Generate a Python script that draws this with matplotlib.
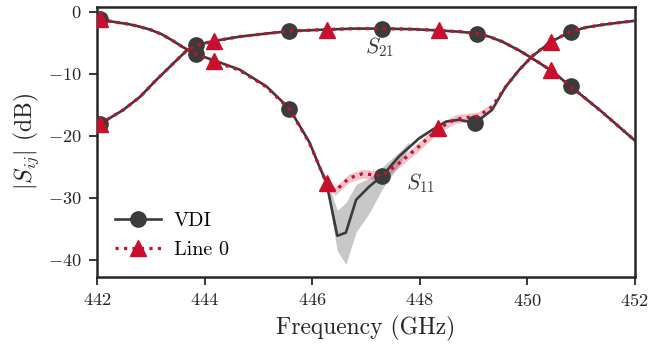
import matplotlib
matplotlib.use("Agg")
import matplotlib.pyplot as plt

plt.rcParams.update({
    "font.family": "serif",
    "font.serif": ["cmr10"],
    "mathtext.fontset": "cm",
    "axes.formatter.use_mathtext": True,
    "axes.unicode_minus": True,
})

# ---- data ----
vdi_s11_f = [442.05, 442.3, 442.6, 442.8, 443.0, 443.2, 443.4, 443.6, 443.84, 444.2,
             444.65, 445.15, 445.58, 445.95, 446.14, 446.27, 446.47, 446.63, 446.82, 447.06,
             447.31, 447.62, 447.99, 448.24, 448.49, 448.73, 449.04, 449.35, 449.6, 449.85,
             450.09, 450.45, 450.81, 451.1, 451.39, 451.7, 452.0]
vdi_s11 = [-1.2, -1.6, -2.0, -2.4, -2.9, -3.6, -4.6, -5.7, -6.8, -7.9,
           -9.3, -12.0, -15.6, -21.0, -25.0, -27.6, -36.1, -35.6, -30.3, -28.2,
           -26.4, -23.3, -20.4, -19.0, -17.7, -17.4, -17.9, -15.8, -12.1, -9.4,
           -7.2, -4.8, -3.2, -2.5, -2.1, -1.75, -1.45]
vdi_s11_marks = [0, 8, 12, 20, 26, 32]

vdi_s21_f = [442.05, 442.49, 442.8, 443.1, 443.42, 443.66, 443.84, 444.17, 444.65, 445.15,
             445.58, 446.27, 446.8, 447.31, 447.9, 448.36, 448.75, 449.06, 449.3, 449.54,
             449.85, 450.06, 450.44, 450.81, 451.39, 452.0]
vdi_s21 = [-18.1, -15.8, -13.7, -11.0, -8.3, -6.3, -5.4, -4.7, -4.0, -3.5,
           -3.1, -2.85, -2.7, -2.7, -2.8, -3.0, -3.2, -3.5, -4.0, -4.8,
           -6.2, -7.3, -9.4, -12.0, -16.1, -20.7]
vdi_s21_marks = [0, 6, 10, 13, 17, 23]

vdi_band_f = [446.14, 446.27, 446.47, 446.63, 446.82, 447.06, 447.31, 447.62, 447.8]
vdi_band_lo = [-25.3, -28.5, -38.5, -40.7, -35.5, -32.5, -28.5, -24.7, -22.0]
vdi_band_hi = [-24.7, -26.8, -32.0, -30.8, -27.8, -26.8, -25.0, -22.6, -21.0]

l0_s11_f = [442.05, 442.3, 442.6, 442.8, 443.0, 443.2, 443.4, 443.6, 443.84, 444.17,
            444.65, 445.15, 445.58, 445.95, 446.14, 446.27, 446.43, 446.69, 446.94, 447.31,
            447.62, 447.99, 448.35, 448.67, 449.1, 449.35, 449.6, 449.85, 450.09, 450.44,
            450.81, 451.1, 451.39, 451.7, 452.0]
l0_s11 = [-1.2, -1.6, -2.0, -2.4, -2.9, -3.6, -4.6, -5.7, -6.8, -8.0,
          -9.4, -12.1, -15.7, -21.1, -25.0, -27.6, -28.9, -26.8, -26.1, -26.4,
          -24.4, -21.7, -18.8, -17.3, -16.8, -15.3, -12.1, -9.4, -7.2, -4.8,
          -3.2, -2.5, -2.1, -1.75, -1.45]
l0_s11_marks = [0, 9, 15, 22, 29]

l0_band_f = [446.27, 446.43, 446.69, 446.94, 447.31, 447.62, 447.99, 448.35, 448.67, 449.1, 449.35]
l0_band_lo = [-28.2, -29.6, -27.5, -26.8, -27.1, -25.1, -22.4, -19.5, -18.0, -17.5, -15.9]
l0_band_hi = [-27.0, -28.2, -26.1, -25.4, -25.7, -23.7, -21.0, -18.1, -16.6, -16.1, -14.7]

l0_s21_f = [442.05, 442.49, 442.8, 443.1, 443.42, 443.66, 443.84, 444.17, 444.65, 445.15,
            445.58, 446.27, 446.8, 447.31, 447.9, 448.36, 448.75, 449.06, 449.3, 449.54,
            449.85, 450.06, 450.44, 450.81, 451.39, 452.0]
l0_s21 = [-18.1, -15.8, -13.7, -11.0, -8.3, -6.3, -5.4, -4.7, -4.0, -3.5,
          -3.1, -2.85, -2.7, -2.7, -2.8, -3.0, -3.2, -3.5, -4.0, -4.8,
          -6.2, -7.3, -9.4, -12.0, -16.1, -20.7]
l0_s21_marks = [0, 7, 11, 15, 22]

xticks = [442, 444, 446, 448, 450, 452]
yticks = [0, -10, -20, -30, -40]

# ---- style ----
gray = "#3b3b3b"
red = "#c8102e"
spine_c = "#262626"

fig = plt.figure(figsize=(6.49, 3.47), dpi=100)
ax = fig.add_axes([0.1495, 0.2026, 0.8282, 0.7784])

ax.fill_between(vdi_band_f, vdi_band_lo, vdi_band_hi, color="#b0b0b0", alpha=0.7, lw=0)
ax.fill_between(l0_band_f, l0_band_lo, l0_band_hi, color=red, alpha=0.25, lw=0)

vdi_kw = dict(color=gray, lw=1.9, marker="o", ms=11, mec=gray, mfc=gray, zorder=3)
l0_kw = dict(color=red, lw=2.3, ls=":", marker="^", ms=12, mec=red, mfc=red, zorder=4)

ax.plot(vdi_s11_f, vdi_s11, markevery=vdi_s11_marks, label="VDI", **vdi_kw)
ax.plot(vdi_s21_f, vdi_s21, markevery=vdi_s21_marks, **vdi_kw)
ax.plot(l0_s11_f, l0_s11, markevery=l0_s11_marks, label="Line 0", **l0_kw)
ax.plot(l0_s21_f, l0_s21, markevery=l0_s21_marks, **l0_kw)

ax.text(446.98, -5.7, r"$S_{21}$", fontsize=15.5, color=gray, va="center", ha="left")
ax.text(447.74, -27.6, r"$S_{11}$", fontsize=15.5, color=gray, va="center", ha="left")

ax.set_xlim(442, 452)
ax.set_ylim(-42.7, 0.85)
ax.set_xticks(xticks)
ax.set_yticks(yticks)
ax.set_xlabel("Frequency (GHz)", fontsize=17, color=spine_c, labelpad=5)
ax.set_ylabel(r"$|S_{ij}|$ (dB)", fontsize=17, color=spine_c, labelpad=5)
ax.tick_params(labelsize=13.2, length=6, width=1.3, color=spine_c, labelcolor=spine_c, pad=5)
for s in ax.spines.values():
    s.set_linewidth(1.8)
    s.set_color(spine_c)

ax.legend(loc="lower left", frameon=False, fontsize=14.5, handlelength=2.3,
          handletextpad=0.6, borderaxespad=0.5, labelspacing=0.5)

fig.savefig("out.png", dpi=100)
